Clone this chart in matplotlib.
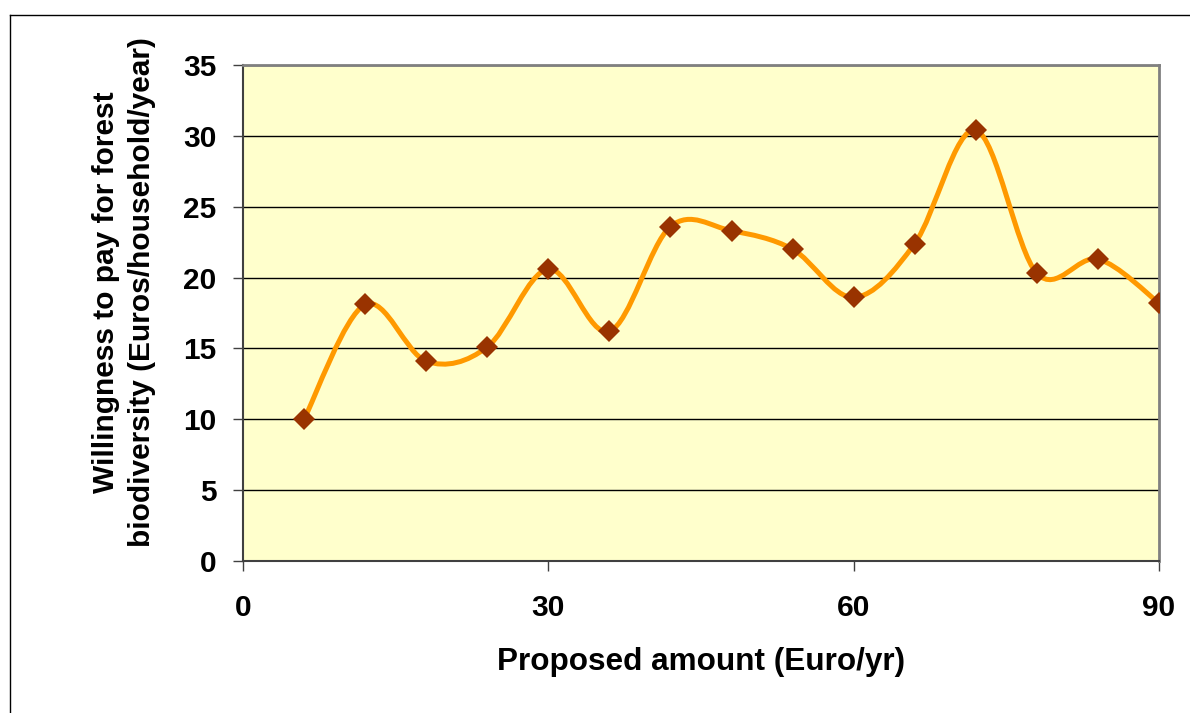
import numpy as np
import matplotlib
matplotlib.use('Agg')
import matplotlib.pyplot as plt
from matplotlib.path import Path
from matplotlib.patches import PathPatch
from matplotlib.lines import Line2D

# data
amount = [6, 12, 18, 24, 30, 36, 42, 48, 54, 60, 66, 72, 78, 84, 90]
wtp = [10.0, 18.1, 14.1, 15.1, 20.6, 16.2, 23.6, 23.3, 22.0, 18.6, 22.4, 30.4, 20.3, 21.3, 18.2]
xticks = [0, 30, 60, 90]
yticks = [0, 5, 10, 15, 20, 25, 30, 35]


def smooth_path(xs, ys, t=1/6.):
    # excel-style smoothed line: cubic bezier through the points
    pts = np.column_stack([xs, ys]).astype(float)
    n = len(pts)
    verts = [pts[0]]
    codes = [Path.MOVETO]
    for i in range(n - 1):
        p0 = pts[max(i - 1, 0)]
        p1 = pts[i]
        p2 = pts[i + 1]
        p3 = pts[min(i + 2, n - 1)]
        verts += [p1 + (p2 - p0) * t, p2 - (p3 - p1) * t, p2]
        codes += [Path.CURVE4] * 3
    return Path(verts, codes)


plt.rcParams['font.family'] = ['Liberation Sans', 'DejaVu Sans']
plt.rcParams['font.weight'] = 'bold'

W, H = 1190, 713
fig = plt.figure(figsize=(W / 100, H / 100), dpi=100)
ax = fig.add_axes([243 / W, 1 - 561 / H, (1159 - 243) / W, (561 - 65) / H])
ax.set_facecolor('#FFFFCC')

ax.add_patch(PathPatch(smooth_path(amount, wtp), facecolor='none',
                       edgecolor='#FF9900', lw=3.6, zorder=3,
                       capstyle='round', joinstyle='round'))
ax.plot(amount, wtp, 'D', color='#993300', ms=11.5, mew=0, zorder=4)

ax.set_xlim(0, 90)
ax.set_ylim(0, 35)
ax.set_xticks(xticks)
ax.set_yticks(yticks)
ax.yaxis.grid(True, color='black', lw=1)
ax.set_axisbelow(True)

for s in ['left', 'bottom']:
    ax.spines[s].set_color('#404040')
    ax.spines[s].set_linewidth(1.5)
for s in ['top', 'right']:
    ax.spines[s].set_color('#808080')
    ax.spines[s].set_linewidth(2)

ax.tick_params(axis='both', direction='out', length=7, width=1, color='#404040',
               labelsize=21.5)
ax.tick_params(axis='y', pad=12)
ax.tick_params(axis='x', pad=17)

ax.set_xlabel('Proposed amount (Euro/yr)', fontsize=22.7, fontweight='bold', labelpad=18)
fig.text(124 / W, 1 - 292 / H,
         'Willingness to pay for forest\nbiodiversity (Euros/household/year)',
         rotation=90, ha='center', va='center', multialignment='center',
         fontsize=21.5, fontweight='bold', linespacing=1.4)

# chart area border (cropped on right and bottom)
fig.add_artist(Line2D([9.5 / W, 1], [1 - 15 / H] * 2, color='black', lw=1))
fig.add_artist(Line2D([9.5 / W] * 2, [0, 1 - 15 / H], color='black', lw=1))

fig.savefig('out.png', dpi=100, facecolor='white')
